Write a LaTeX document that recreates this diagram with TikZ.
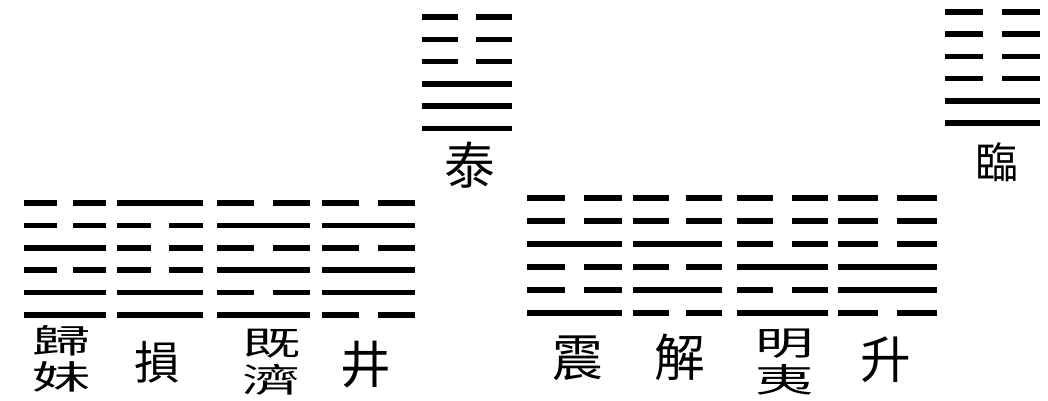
\documentclass[tikz,border=0pt]{standalone}
\usepackage{fontspec}
\usepackage{graphicx}
\newfontfamily\cjk{Noto Sans CJK TC}
\usetikzlibrary{positioning}

\tikzset{
  yao/.style={line width=4.2pt, line cap=butt, color=black},
  guaname/.style={inner sep=0pt, font=\cjk\fontsize{38}{38}\selectfont},
  guapair/.style={inner sep=0pt, font=\cjk\fontsize{25}{22}\selectfont},
}

% one hexagram: left x, top y, width, row step, lines from top (1 solid, 0 broken)
\newcommand{\gua}[5]{%
  \foreach \l [count=\i from 0] in {#5} {
    \ifnum\l=1
      \draw[yao] (#1,#2+\i*#4) -- ++(#3,0);
    \else
      \draw[yao] (#1,#2+\i*#4) -- ++(0.4*#3,0);
      \draw[yao] (#1+0.6*#3,#2+\i*#4) -- ++(0.4*#3,0);
    \fi
  }}
% two characters set one above the other
\newcommand{\pairname}[2]{\scalebox{1.75}[1]{\begin{tabular}{@{}c@{}}#1\\#2\end{tabular}}}

\begin{document}
\begin{tikzpicture}[x=0.75pt,y=0.75pt,yscale=-1,xscale=1]
	\useasboundingbox (0,0) rectangle (1048,400);

	%Hexagram: tai
	\gua{422}{17}{90}{22.3}{0,0,0,1,1,1}
	%Hexagram: lin
	\gua{945}{12}{95}{22.2}{0,0,0,0,1,1}

	%Hexagrams: left row
	\gua{24}{203}{82}{22.4}{0,0,1,0,1,1}
	\gua{117}{203}{86}{22.4}{1,0,0,0,1,1}
	\gua{217}{203}{93}{22.4}{0,1,0,1,0,1}
	\gua{322}{203}{93}{22.4}{0,1,0,1,1,0}

	%Hexagrams: right row
	\gua{527}{198}{95}{23}{0,0,1,0,0,1}
	\gua{633}{198}{89}{23}{0,0,1,0,1,0}
	\gua{737}{198}{91}{23}{0,0,0,1,0,1}
	\gua{838}{198}{99}{23}{0,0,0,1,1,0}

	% Text Node
	\node[guaname] (tai) at (470,165) {泰};
	% Text Node
	\node[guaname, font=\cjk\fontsize{32}{32}\selectfont] (lin) at (997,162) {臨};
	% Text Node
	\node[guapair] (guimei) at (62,362) {\pairname{歸}{妹}};
	% Text Node
	\node[guaname, font=\cjk\fontsize{34}{34}\selectfont] (sun) at (157,362) {損};
	% Text Node
	\node[guapair] (jiji) at (272,365) {\pairname{既}{濟}};
	% Text Node
	\node[guaname] (jing) at (366,365) {井};
	% Text Node
	\node[guaname] (zhen) at (578,358) {震};
	% Text Node
	\node[guaname] (xie) at (680,357) {解};
	% Text Node
	\node[guapair] (mingyi) at (785,365) {\pairname{明}{夷}};
	% Text Node
	\node[guaname] (sheng) at (886,360) {升};

\end{tikzpicture}
\end{document}
